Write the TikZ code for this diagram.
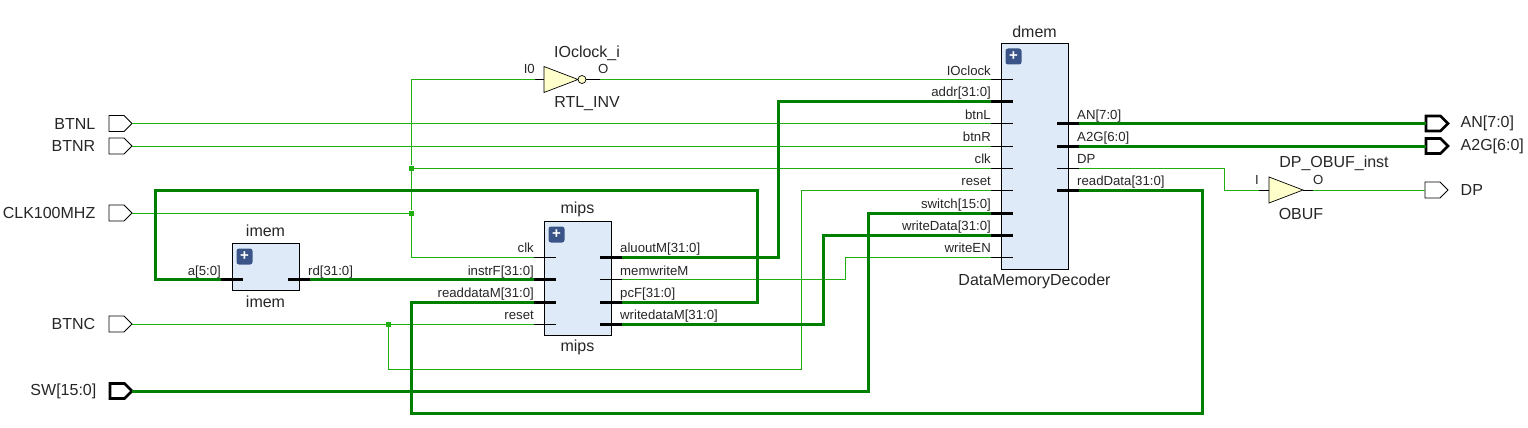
\documentclass[tikz,border=0pt]{standalone}
\usepackage{fontspec}
\setmainfont{Liberation Sans}
\usetikzlibrary{positioning}
\usetikzlibrary{shapes.geometric}
\usetikzlibrary{shapes.symbols}
\definecolor{netthin}{HTML}{1FB010}
\definecolor{netbus}{HTML}{008000}
\definecolor{blockfill}{HTML}{DFEAF8}
\definecolor{iconfill}{HTML}{3A5488}
\definecolor{gatefill}{HTML}{FFFFCC}
\tikzset{
bigtxt/.style = {font=\fontsize{16}{18}\selectfont, text=black!85, inner sep=0pt},
block/.style = {draw=black, fill=blockfill, line width=0.8pt, minimum width=67pt, inner sep=0pt, outer sep=0pt},
icon/.style = {fill=iconfill, rounded corners=2.5pt, minimum size=16pt, inner sep=0pt, text=white, font=\fontsize{15}{15}\bfseries\selectfont},
gate/.style = {draw=black, fill=gatefill, line width=0.7pt, isosceles triangle, isosceles triangle stretches, minimum width=26pt, minimum height=34pt, inner sep=0pt, outer sep=0pt, anchor=west},
bubble/.style = {draw=black, fill=gatefill, circle, line width=0.7pt, minimum size=8pt, inner sep=0pt, outer sep=0pt},
port/.style = {draw=black, fill=white, line width=0.8pt, signal, signal to=east, minimum width=23pt, minimum height=16pt, inner sep=0pt, outer sep=0pt},
busport/.style = {port, line width=2.6pt, minimum width=22pt, minimum height=15pt},
pinl/.style = {font=\fontsize{13.2}{15}\selectfont, text=black!85, inner xsep=0pt, inner ysep=4.3pt, text depth=0pt, anchor=south east},
pinr/.style = {font=\fontsize{13.2}{15}\selectfont, text=black!85, inner xsep=-2pt, inner ysep=4.3pt, text depth=0pt, anchor=south west},
stub/.style = {draw=black, line width=0.9pt},
busstub/.style = {draw=black, line width=3pt},
net/.style = {draw=netthin, line width=1pt},
bus/.style = {draw=netbus, line width=3pt},
jct/.style = {fill=netthin, minimum size=5pt, inner sep=0pt}
}
\begin{document}
\begin{tikzpicture}[x=1pt,y=-1pt]
    \useasboundingbox (0,0) rectangle (1528,428);

    % blocks
    \node[block, minimum height=47pt] (imem) at (265.5,266.5) {};
    \node[block, minimum height=114pt] (mips) at (577.5,278) {};
    \node[block, minimum height=226pt] (dmem) at (1034.5,156) {};
    \node[bigtxt, above=6pt of imem] (imemtop) {imem};
    \node[bigtxt, below=6pt of imem] (imembot) {imem};
    \node[bigtxt, above=3.5pt of mips] (mipstop) {mips};
    \node[bigtxt, below=5pt of mips] (mipsbot) {mips};
    \node[bigtxt, above=5pt of dmem] (dmemtop) {dmem};
    \node[bigtxt, below=5pt of dmem] (dmembot) {DataMemoryDecoder};
    \node[icon] (imemicon) at (244.5,256.5) {+};
    \node[icon] (mipsicon) at (556.5,234.5) {+};
    \node[icon] (dmemicon) at (1013.5,56.5) {+};

    % gates
    \node[gate] (inv) at (544,79.5) {};
    \node[bubble, right=0pt of inv.apex] (invb) {};
    \node[bigtxt] (invtop) at (587,53) {IOclock\_i};
    \node[bigtxt] (invbot) at (587,104) {RTL\_INV};
    \node[gate] (obuf) at (1269,190) {};
    \node[bigtxt] (obuftop) at (1334,163) {DP\_OBUF\_inst};
    \node[bigtxt] (obufbot) at (1301,214) {OBUF};

    % ports
    \node[port, anchor=east] (pBTNL) at (132,123.5) {};
    \node[port, anchor=east] (pBTNR) at (132,146) {};
    \node[port, anchor=east] (pCLK) at (132,213) {};
    \node[port, anchor=east] (pBTNC) at (132,324) {};
    \node[busport, anchor=east] (pSW) at (132,391) {};
    \node[busport, anchor=west] (pAN) at (1426,123.5) {};
    \node[busport, anchor=west] (pA2G) at (1426,146) {};
    \node[port, anchor=west] (pDP) at (1425,190) {};
    \node[bigtxt, left=13.5pt of pBTNL] (tBTNL) {BTNL};
    \node[bigtxt, left=13.5pt of pBTNR] (tBTNR) {BTNR};
    \node[bigtxt, left=13.5pt of pCLK] (tCLK) {CLK100MHZ};
    \node[bigtxt, left=13.5pt of pBTNC] (tBTNC) {BTNC};
    \node[bigtxt, left=13.5pt of pSW] (tSW) {SW[15:0]};
    \node[bigtxt, right=12.5pt of pAN] (tAN) {AN[7:0]};
    \node[bigtxt, right=12.5pt of pA2G] (tA2G) {A2G[6:0]};
    \node[bigtxt, right=12.5pt of pDP] (tDP) {DP};

    % pins
    \node[pinl] (ia) at (221,279.5) {a[5:0]};
    \node[pinr] (ird) at (310,279.5) {rd[31:0]};
    \node[pinl] (mclk) at (534,257) {clk};
    \node[pinl] (minstr) at (534,279.5) {instrF[31:0]};
    \node[pinl] (mread) at (534,302) {readdataM[31:0]};
    \node[pinl] (mreset) at (534,324) {reset};
    \node[pinr] (malu) at (622,257) {aluoutM[31:0]};
    \node[pinr] (mwrite) at (622,279.5) {memwriteM};
    \node[pinr] (mpc) at (622,302) {pcF[31:0]};
    \node[pinr] (mdata) at (622,324) {writedataM[31:0]};
    \node[pinl] (dclock) at (991,79.5) {IOclock};
    \node[pinl] (daddr) at (991,101) {addr[31:0]};
    \node[pinl] (dbtnl) at (991,123.5) {btnL};
    \node[pinl] (dbtnr) at (991,146) {btnR};
    \node[pinl] (dclk) at (991,168) {clk};
    \node[pinl] (dreset) at (991,190) {reset};
    \node[pinl] (dswitch) at (991,213) {switch[15:0]};
    \node[pinl] (dwdata) at (991,235) {writeData[31:0]};
    \node[pinl] (dwen) at (991,257) {writeEN};
    \node[pinr] (dan) at (1079,123.5) {AN[7:0]};
    \node[pinr] (da2g) at (1079,146) {A2G[6:0]};
    \node[pinr] (ddp) at (1079,168) {DP};
    \node[pinr] (drd) at (1079,190) {readData[31:0]};
    \node[pinl, inner ysep=5.5pt] (invi) at (535,79.5) {I0};
    \node[pinr, inner ysep=5.5pt] (invo) at (600,79.5) {O};
    \node[pinl, inner ysep=5.5pt] (obufi) at (1259,190) {I};
    \node[pinr, inner ysep=5.5pt, inner xsep=0pt] (obufo) at (1313,190) {O};

    % junctions
    \node[jct] (jclk) at (411.5,213) {};
    \node[jct] (jdclk) at (411.5,168) {};
    \node[jct] (jrst) at (388,324) {};

    % thin nets
    \path
    (pBTNL.east) edge[net] (dbtnl.south east)
    (pBTNR.east) edge[net] (dbtnr.south east)
    (pCLK.east) edge[net] (jclk)
    (jdclk) edge[net] (dclk.south east)
    (pBTNC.east) edge[net] (mreset.south east)
    (invo.south west) edge[net] (dclock.south east)
    (obufo.south west) edge[net] (pDP.west);
    \draw[net] (invi.south east) -| (jdclk) -- (jclk) |- (mclk.south east);
    \draw[net] (jrst) |- (801,369) |- (dreset.south east);
    \draw[net] (mwrite.south west) -| (845,257) -- (dwen.south east);
    \draw[net] (ddp.south west) -| (1224.5,190) -- (obufi.south east);

    % buses
    \path
    (ird.south west) edge[bus] (minstr.south east)
    (dan.south west) edge[bus] (pAN.west)
    (da2g.south west) edge[bus] (pA2G.west);
    \draw[bus] (ia.south east) -| (155.5,190) -| (757,302) -- (mpc.south west);
    \draw[bus] (mread.south east) -| (411.5,413) -| (1202,190) -- (drd.south west);
    \draw[bus] (malu.south west) -| (778,101) -- (daddr.south east);
    \draw[bus] (mdata.south west) -| (823,235) -- (dwdata.south east);
    \draw[bus] (pSW.east) -| (868.5,213) -- (dswitch.south east);

    % pin stubs
    \foreach \p in {mclk,mreset,dclock,dbtnl,dbtnr,dclk,dreset,dwen}
        \draw[stub] (\p.south east) -- ++(22,0);
    \foreach \p in {ia,minstr,mread,daddr,dswitch,dwdata}
        \draw[busstub] (\p.south east) -- ++(22,0);
    \foreach \p in {mwrite,ddp}
        \draw[stub] (\p.south west) -- ++(-22,0);
    \foreach \p in {ird,malu,mpc,mdata,dan,da2g,drd}
        \draw[busstub] (\p.south west) -- ++(-22,0);
    \path
    (invi.south east) edge[stub] (inv.west)
    (invb.east) edge[stub] (invo.south west)
    (obufi.south east) edge[stub] (obuf.west)
    (obuf.apex) edge[stub] (obufo.south west);
\end{tikzpicture}
\end{document}
